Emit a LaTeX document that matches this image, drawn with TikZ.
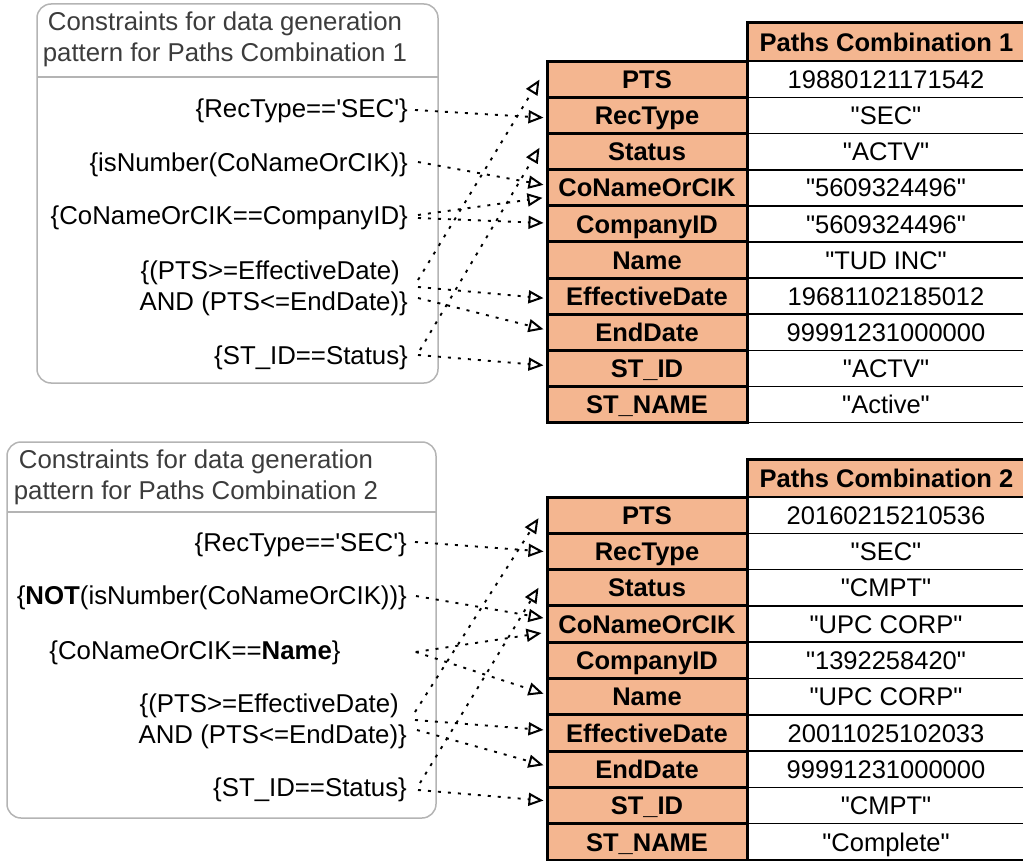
\documentclass[tikz,border=0pt]{standalone}
\usepackage{fontspec}
\setmainfont{Liberation Sans}
\usetikzlibrary{arrows.meta}
\definecolor{salmon}{RGB}{244,182,144}
\definecolor{panelgray}{RGB}{180,180,180}
\definecolor{titlegray}{RGB}{60,60,60}
% straight double quotes around a cell value
\newcommand{\qv}[1]{\textquotedbl#1\textquotedbl}
\begin{document}
\begin{tikzpicture}[x=1pt,y=-1pt,
  every node/.style={inner sep=0pt, font=\fontsize{25.8}{31}\selectfont},
  panel/.style={draw=panelgray, line width=1.5pt, rounded corners=14pt},
  divider/.style={draw=panelgray, line width=1.5pt},
  paneltitle/.style={text=titlegray, align=center},
  rule/.style={anchor=east, align=right},
  cell/.style={draw, text height=18.3pt, text depth=0pt,
    font=\fontsize{25.5}{30}\selectfont},
  keycell/.style={cell, line width=3pt, fill=salmon, minimum width=200pt,
    font=\fontsize{25.5}{30}\selectfont\bfseries},
  valcell/.style={cell, line width=1.5pt, fill=white, minimum width=278pt},
  headcell/.style={cell, line width=3pt, fill=salmon, minimum width=279pt,
    minimum height=38.5pt, font=\fontsize{25.5}{30}\selectfont\bfseries},
  link/.style={line width=1.9pt, dash pattern=on 3pt off 7pt,
    -{Triangle[open,length=15pt,width=13pt,line width=2pt]}}
]
\useasboundingbox (0,0) rectangle (1023,861);

% ---------- constraint panel 1 ----------
\node[panel, minimum width=401pt, minimum height=379pt] (p1) at (237.5,193.5) {};
\draw[divider] (37,77) -- (438,77);
\node[paneltitle] (p1title) at (225,39.5)
  {Constraints for data generation\\pattern for Paths Combination 1};
\node[rule] (r1rec) at (408,111) {\{RecType==\textquotesingle SEC\textquotesingle\}};
\node[rule] (r1num) at (408,165) {\{isNumber(CoNameOrCIK)\}};
\node[rule] (r1coid) at (408,218) {\{CoNameOrCIK==CompanyID\}};
\node[rule] (r1date) at (408,288) {\{(PTS>=EffectiveDate)\kern8pt\\AND (PTS<=EndDate)\}};
\node[rule] (r1st) at (408,358) {\{ST\_ID==Status\}};

% ---------- constraint panel 2 ----------
\node[panel, minimum width=429pt, minimum height=376pt] (p2) at (221.5,630) {};
\draw[divider] (7,512) -- (436,512);
\node[paneltitle] (p2title) at (196,477.5)
  {Constraints for data generation\\pattern for Paths Combination 2};
\node[rule] (r2rec) at (407,545) {\{RecType==\textquotesingle SEC\textquotesingle\}};
\node[rule] (r2not) at (407,598) {\{\textbf{NOT}(isNumber(CoNameOrCIK))\}};
\node (r2name) at (195,653) {\{CoNameOrCIK==\textbf{Name}\}};
\node[rule] (r2date) at (407,721) {\{(PTS>=EffectiveDate)\kern8pt\\AND (PTS<=EndDate)\}};
\node[rule] (r2st) at (407,790) {\{ST\_ID==Status\}};

% ---------- table 1 ----------
\node[headcell] (h1) at (886.5,42.25) {Paths Combination 1};
\foreach \key/\val [count=\i from 0] in {
    PTS/19880121171542, RecType/\qv{SEC}, Status/\qv{ACTV},
    CoNameOrCIK/\qv{5609324496}, CompanyID/\qv{5609324496}, Name/\qv{TUD INC},
    EffectiveDate/19681102185012, EndDate/99991231000000,
    ST\_ID/\qv{ACTV}, ST\_NAME/\qv{Active}} {
  \node[valcell, minimum height=36.1pt] (t1v\i) at (886,79.55+36.1*\i) {\val};
  \node[keycell, minimum height=36.1pt] (t1k\i) at (647,79.55+36.1*\i) {\key};
}

% ---------- table 2 ----------
\node[headcell] (h2) at (886.5,478.5) {Paths Combination 2};
\foreach \key/\val [count=\i from 0] in {
    PTS/20160215210536, RecType/\qv{SEC}, Status/\qv{CMPT},
    CoNameOrCIK/\qv{UPC CORP}, CompanyID/\qv{1392258420}, Name/\qv{UPC CORP},
    EffectiveDate/20011025102033, EndDate/99991231000000,
    ST\_ID/\qv{CMPT}, ST\_NAME/\qv{Complete}} {
  \node[valcell, minimum height=36.3pt] (t2v\i) at (886,515.15+36.3*\i) {\val};
  \node[keycell, minimum height=36.3pt] (t2k\i) at (647,515.15+36.3*\i) {\key};
}

% ---------- constraint links, set 1 ----------
\draw[link] ([shift={(7,-1)}]r1rec.east) -- ([shift={(-2,2)}]t1k1.west);
\draw[link] ([shift={(10,-3)}]r1num.east) -- ([shift={(-2,-3)}]t1k3.west);
\draw[link] ([shift={(10,-3)}]r1coid.east) -- ([shift={(-3,10)}]t1k3.west);
\draw[link] ([shift={(10,0)}]r1coid.east) -- ([shift={(-2,-1)}]t1k4.west);
\draw[link] ([shift={(10,-8)}]r1date.east) -- ([shift={(-6,0)}]t1k0.west);
\draw[link] ([shift={(10,-1)}]r1date.east) -- ([shift={(-2,2)}]t1k6.west);
\draw[link] ([shift={(10,10)}]r1date.east) -- ([shift={(-2,-3)}]t1k7.west);
\draw[link] ([shift={(12,-8)}]r1st.east) -- ([shift={(-6,-4)}]t1k2.west);
\draw[link] ([shift={(10,-3)}]r1st.east) -- ([shift={(-2,-3)}]t1k8.west);

% ---------- constraint links, set 2 ----------
\draw[link] ([shift={(8,-3)}]r2rec.east) -- ([shift={(-2,0)}]t2k1.west);
\draw[link] ([shift={(9,-2)}]r2not.east) -- ([shift={(-2,-6)}]t2k3.west);
\draw[link] ([shift={(75,-1)}]r2name.east) -- ([shift={(-4,9)}]t2k3.west);
\draw[link] ([shift={(75,-1)}]r2name.east) -- ([shift={(-2,-3)}]t2k5.west);
\draw[link] ([shift={(8,-9)}]r2date.east) -- ([shift={(-7,3)}]t2k0.west);
\draw[link] ([shift={(8,-1)}]r2date.east) -- ([shift={(-2,-3)}]t2k6.west);
\draw[link] ([shift={(10,9)}]r2date.east) -- ([shift={(-2,-4)}]t2k7.west);
\draw[link] ([shift={(13,-7)}]r2st.east) -- ([shift={(-7,0)}]t2k2.west);
\draw[link] ([shift={(11,0)}]r2st.east) -- ([shift={(-2,-5)}]t2k8.west);
\end{tikzpicture}
\end{document}
